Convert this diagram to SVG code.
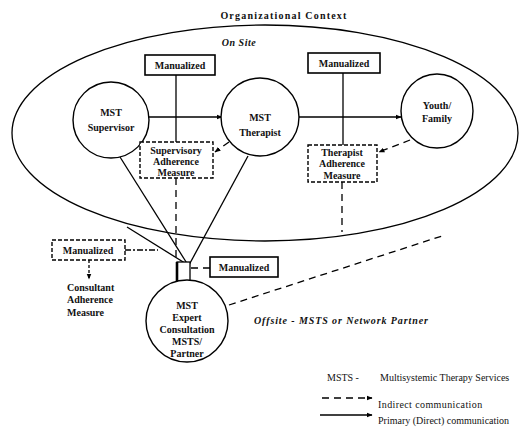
<svg xmlns="http://www.w3.org/2000/svg" width="520" height="427" viewBox="0 0 520 427">
<style>
text{font-family:"Liberation Serif","Times New Roman",serif;font-size:10px;font-weight:bold;fill:#111;text-anchor:middle}
.it{font-style:italic}
.st{text-anchor:start}
.lg{font-size:10px;font-weight:normal}
.ln{stroke:#000;stroke-width:1.3;fill:none}
.ds{stroke:#000;stroke-width:1.3;fill:none;stroke-dasharray:7,5}
.node{fill:#fff;stroke:#000;stroke-width:1.4}
.box{fill:#fff;stroke:#000;stroke-width:1.6}
.dbox{fill:#fff;stroke:#000;stroke-width:1.4;stroke-dasharray:4,2}
</style>
<defs>
<marker id="ah" viewBox="0 0 10 10" refX="9" refY="5" markerWidth="6" markerHeight="6" orient="auto" markerUnits="userSpaceOnUse"><path d="M0,1 L10,5 L0,9 z" fill="#000"/></marker>
</defs>
<rect width="520" height="427" fill="#fff"/>
<text x="284" y="19" font-size="10.5" letter-spacing="1.2">Organizational Context</text>
<g id="context">
<ellipse cx="265" cy="133" rx="253" ry="108" class="ln"/>
<text class="it" x="239" y="46" letter-spacing="0.5">On Site</text>
</g>
<g id="connectors">
<line class="ln" x1="176" y1="75" x2="176" y2="142"/>
<line class="ln" x1="343" y1="73" x2="343" y2="145"/>
<line class="ln" x1="149" y1="117" x2="222" y2="117" marker-end="url(#ah)"/>
<line class="ln" x1="298" y1="117" x2="401" y2="117" marker-end="url(#ah)"/>
<line class="ds" x1="176" y1="178" x2="176" y2="262"/>
<line class="ds" x1="342" y1="182" x2="342" y2="232"/>
<line class="ds" x1="410" y1="140" x2="379" y2="152" stroke-dasharray="6,5" marker-end="url(#ah)"/>
<line class="ds" x1="229" y1="142" x2="215" y2="152" stroke-dasharray="5,3" marker-end="url(#ah)"/>
<line class="ln" x1="120" y1="157" x2="188" y2="265"/>
<line class="ln" x1="248" y1="156" x2="189" y2="265"/>
<line class="ln" x1="127" y1="227" x2="188" y2="265"/>
<line class="ds" x1="191" y1="268" x2="210" y2="268" stroke-dasharray="4,3"/>
<line class="ln" x1="125" y1="250" x2="158" y2="250" stroke-dasharray="6,2,2,2"/>
<line class="ln" x1="89" y1="260" x2="89" y2="279" stroke-dasharray="3,2" marker-end="url(#ah)"/>
<line class="ds" x1="229" y1="305" x2="442" y2="236" stroke-dasharray="9,7"/>
<rect x="177" y="262" width="13" height="19" fill="#fff" stroke="#000" stroke-width="1.3"/>
<line x1="177" y1="262" x2="177" y2="281" stroke="#000" stroke-width="2.6"/>
</g>
<g id="manualized-top-left">
<rect class="box" x="145" y="55" width="70" height="20"/>
<text x="180" y="69">Manualized</text>
</g>
<g id="manualized-top-right">
<rect class="box" x="308" y="53" width="72" height="20"/>
<text x="344" y="67">Manualized</text>
</g>
<g id="mst-supervisor">
<circle class="node" cx="111" cy="120" r="38"/>
<text x="111" y="116">MST</text>
<text x="111" y="131">Supervisor</text>
</g>
<g id="mst-therapist">
<circle class="node" cx="260" cy="117" r="39"/>
<text x="260" y="121">MST</text>
<text x="260" y="136">Therapist</text>
</g>
<g id="youth-family">
<ellipse class="node" cx="437" cy="111" rx="36" ry="37"/>
<text x="437" y="109">Youth/</text>
<text x="437" y="122">Family</text>
</g>
<g id="supervisory-adherence">
<rect class="dbox" x="140" y="142" width="73" height="36"/>
<text x="176" y="154">Supervisory</text>
<text x="176" y="165">Adherence</text>
<text x="176" y="176">Measure</text>
</g>
<g id="therapist-adherence">
<rect class="dbox" x="308" y="145" width="69" height="37"/>
<text x="342" y="156">Therapist</text>
<text x="342" y="167">Adherence</text>
<text x="342" y="179">Measure</text>
</g>
<g id="manualized-lower-left">
<rect class="dbox" x="52" y="240" width="73" height="20"/>
<text x="88" y="254">Manualized</text>
</g>
<g id="consultant-adherence">
<text class="st" x="67" y="291">Consultant</text>
<text class="st" x="67" y="303">Adherence</text>
<text class="st" x="67" y="316">Measure</text>
</g>
<g id="manualized-lower">
<rect class="box" x="210" y="257" width="68" height="20"/>
<text x="244" y="271">Manualized</text>
</g>
<g id="mst-expert-consultation">
<circle class="node" cx="187" cy="321" r="41"/>
<text x="187" y="309">MST</text>
<text x="187" y="321">Expert</text>
<text x="187" y="333">Consultation</text>
<text x="187" y="345">MSTS/</text>
<text x="187" y="357">Partner</text>
</g>
<text class="it st" x="254" y="324" font-size="10.5" letter-spacing="0.9">Offsite - MSTS or Network Partner</text>
<g id="legend">
<text class="st lg" x="327" y="381">MSTS -</text>
<text class="st lg" x="380" y="381">Multisystemic Therapy Services</text>
<line class="ds" x1="322" y1="398" x2="372" y2="398" stroke-dasharray="14,10" marker-end="url(#ah)"/>
<text class="st lg" x="378" y="408" letter-spacing="0.4">Indirect communication</text>
<line class="ln" x1="320" y1="415" x2="372" y2="415" marker-end="url(#ah)"/>
<text class="st lg" x="378" y="424">Primary (Direct) communication</text>
</g>
</svg>
